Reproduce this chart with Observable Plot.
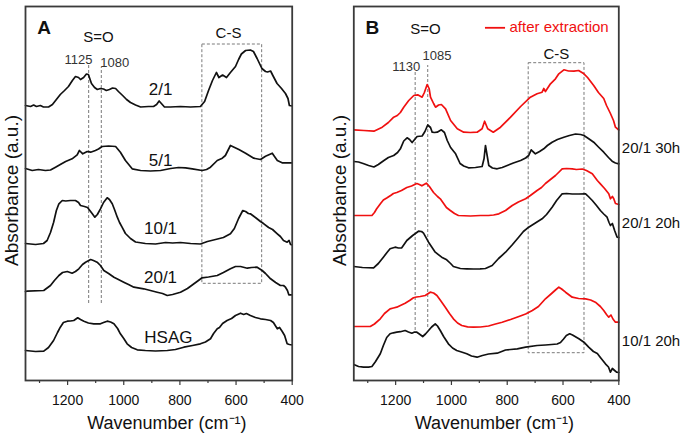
<!DOCTYPE html>
<html><head><meta charset="utf-8">
<script src="https://cdn.jsdelivr.net/npm/d3@7"></script>
<script src="https://cdn.jsdelivr.net/npm/@observablehq/plot@0.6"></script>
<style>
html,body{margin:0;padding:0;background:#fff;}
#wrap{position:relative;width:685px;height:435px;overflow:hidden;}
#a{position:absolute;left:0;top:0;}
#b{position:absolute;left:328px;top:0;}
</style></head><body><div id="wrap"><div id="a"></div><div id="b"></div></div>
<script>
const FONT = '"Liberation Sans", Arial, Helvetica, sans-serif';
const BLACK = "#111111", RED = "#f01010";

// ---- axes ----
const wnDomain = [1350, 400];
const majorTicks = [1200, 1000, 800, 600, 400];
const minorTicks = [1300, 1100, 900, 700, 500];
const xTitle = "Wavenumber (cm⁻¹)";
const yTitle = "Absorbance (a.u.)";

// ---- Panel A spectra: [wavenumber, absorbance (a.u., stacked)] ----
const A_2_1 = [[1350,275],[1332,274],[1321,275.5],[1311,274],[1297,275],[1286,273.5],[1268,273.5],[1254,276],[1240,281],[1226,286],[1211,290],[1197,294],[1183,300],[1172,304],[1161,303],[1154,301],[1143,303],[1133,306.5],[1126,306],[1115,297],[1104,293],[1094,291],[1083,292],[1072,291.5],[1062,290],[1051,291],[1040,292.5],[1029,292],[1019,289],[1004,285],[990,281],[976,278],[958,275.5],[940,273.5],[912,274],[894,274],[883,276],[874,279.5],[866,277],[855,273.5],[834,273.5],[798,274],[762,273.5],[727,274],[712,279],[698,290],[684,300],[670,308],[661,303],[648,305.5],[634,303],[620,308],[602,314],[591,321],[581,326.5],[566,330],[549,330.5],[538,329],[525,322],[508,312],[495,309],[488,308.5],[477,309.5],[468,304.5],[454,297],[438,292],[424,287],[415,282],[410,275],[400,274.5]];
const A_5_1 = [[1350,212],[1326,210],[1304,211],[1279,210],[1261,210.5],[1243,213.3],[1226,216],[1207,219],[1184,221.7],[1166,225.7],[1158,230],[1146,226.7],[1130,229],[1118,228.3],[1101,230],[1090,231.5],[1077,234],[1054,234.5],[1029,234],[1012,228.3],[994,220],[970,211.7],[940,210],[905,209.5],[869,210],[833,212],[805,213],[780,212.7],[756,211.7],[721,210],[705,211],[691,213.3],[667,220],[649,222.3],[638,225],[620,235],[605,233],[590,231],[566,227.3],[537,222.3],[513,221],[495,224.3],[471,227.3],[463,224],[453,220],[436,217.7],[400,217.7]];
const A_10_1 = [[1350,137],[1314,136],[1286,137],[1273,140],[1261,148],[1250,158],[1240,170],[1231,176.7],[1219,180],[1207,179.5],[1190,180],[1172,180],[1161,178],[1154,175],[1140,174],[1129,173],[1112,166.7],[1103,163.3],[1094,166],[1083,171.7],[1072,178],[1059,182.7],[1051,181],[1041,176.7],[1033,171],[1023,163.3],[1015,158],[1006,153.3],[994,147],[976,142],[958,138.5],[923,137],[887,136.5],[851,138],[826,137.5],[798,138],[762,137],[727,136.5],[702,139],[673,141],[645,143],[620,146.7],[606,152],[591,162],[576,170],[566,169],[556,167],[549,166.7],[531,163],[513,159],[501,156.7],[484,153],[470,151],[453,146.7],[442,144],[431,140],[418,138.3],[411,140],[406,136],[400,135.7]];
const A_20_1 = [[1350,89],[1344,89.3],[1285,90],[1261,95],[1247,100],[1231,105],[1218,108],[1201,109],[1184,107.3],[1172,109],[1160,111.7],[1147,116],[1136,118.3],[1118,121],[1108,120],[1095,118.3],[1083,115],[1071,110],[1054,107],[1035,103.3],[1019,101],[1000,98.3],[983,96],[964,93.3],[929,91.7],[905,90],[881,88.3],[862,87],[845,85],[826,86],[798,88.3],[773,92],[750,96.7],[734,100],[721,102.7],[698,103.5],[667,105],[645,108],[620,111.7],[602,114],[584,114],[560,112.3],[545,113],[525,113.3],[507,110],[495,107],[477,101.7],[459,98],[442,95],[431,95],[424,93.3],[417,90],[412,85.7],[400,85.7]];
const A_HSAG = [[1350,30],[1314,29],[1285,29.3],[1268,33],[1250,40],[1236,48],[1226,53.3],[1215,58],[1201,59.3],[1190,59.5],[1178,60],[1164,62.7],[1154,61],[1142,59.3],[1126,57.5],[1107,56.7],[1083,56.7],[1072,58],[1059,59.3],[1047,58.5],[1035,56.7],[1022,52],[1012,46.7],[1000,42],[988,36.7],[972,33],[952,30.7],[923,30],[887,29.5],[845,30],[816,31],[786,33.3],[755,35],[727,36.7],[709,38.5],[691,41.7],[680,47],[667,51.7],[659,53],[648,57],[632,60],[616,62],[602,65],[584,67.3],[573,66],[563,67],[549,65],[531,63],[513,61.7],[495,61],[477,60],[467,58],[453,51.7],[445,53],[436,49.3],[427,45],[418,36.7],[410,36],[400,35.7]];

// ---- Panel B spectra ----
const B_30h_after = [[1350,250.7],[1314,250],[1278,249.3],[1248,253.3],[1226,258],[1207,263.3],[1194,265],[1183,268],[1171,273.3],[1153,280],[1135,285],[1121,285.7],[1105,283.3],[1097,288],[1087,296],[1080,292],[1075,283.3],[1064,277],[1057,273.3],[1046,275.5],[1036,276],[1021,271.7],[1003,260],[979,251.7],[956,248.3],[932,248],[908,248.3],[890,251.7],[881,259.3],[870,251.7],[850,248.3],[824,253.3],[788,263.3],[752,274],[717,283.3],[693,286.7],[675,288.3],[669,292],[663,289],[645,296.7],[627,301.7],[615,306.7],[597,310.7],[580,309.5],[561,309.3],[544,310],[525,306.7],[512,303],[490,295],[473,288],[454,282],[444,275],[430,267],[419,260],[412,253.3],[400,250.5]];
const B_30h = [[1350,219],[1333,218.5],[1314,216.7],[1297,215],[1278,213.5],[1262,216],[1242,220],[1226,223],[1207,225],[1193,228],[1183,231.7],[1171,239.5],[1159,242.7],[1150,241],[1141,238],[1132,241],[1123,244],[1105,244.5],[1095,249],[1085,255.5],[1075,253],[1069,248.3],[1061,248],[1051,248.3],[1036,250.7],[1025,248],[1015,240],[1003,233],[985,226.7],[969,217],[956,214.5],[939,212.7],[914,213],[890,214],[883,222],[878,235],[872,225],[866,215],[853,212.5],[836,211.7],[818,213],[800,215],[778,217.5],[752,220],[734,222.5],[723,225],[714,230.7],[708,229],[699,226.7],[684,229],[669,231.7],[656,235],[639,238.3],[620,241],[597,243.3],[577,245],[555,246.5],[537,246],[525,245],[509,242],[490,238.3],[473,233.5],[454,228.3],[437,223],[424,219.3],[412,217.5],[400,216.7]];
const B_20h_after = [[1350,165],[1319,165],[1285,165],[1276,168],[1268,171.7],[1254,177],[1244,180.5],[1232,182.5],[1218,185],[1208,187],[1196,188],[1179,190],[1160,193],[1143,194.5],[1124,197],[1115,196],[1106,194.7],[1090,197.3],[1079,194],[1064,188],[1050,184],[1040,181.7],[1028,177],[1018,173],[1004,170],[989,167],[975,165],[932,164.5],[896,165],[867,165],[849,165.5],[830,166.7],[806,170],[782,175],[760,178.5],[734,181.7],[717,185],[693,190],[677,193],[663,197],[645,201],[627,205],[616,208],[603,211.7],[587,212],[567,211.7],[552,211],[531,211.5],[516,210],[495,206.7],[477,200],[466,196.7],[451,192],[436,186.7],[430,181.7],[423,184],[418,181.7],[412,177],[400,176]];
const B_20h = [[1350,114],[1319,113],[1279,112.7],[1262,117],[1244,123.3],[1231,128],[1220,131.7],[1202,133.3],[1190,132.5],[1178,132.7],[1160,140],[1139,145],[1129,147],[1118,149.3],[1107,149],[1100,147.3],[1082,138.3],[1058,128.3],[1035,123.3],[1017,120.7],[1003,117],[993,114],[968,112],[945,111.7],[921,111.5],[897,111.7],[878,112],[854,115],[831,122],[806,128.3],[781,136],[759,143.3],[742,149],[723,153.3],[699,157.5],[675,161.7],[659,166],[639,173.3],[623,180],[603,186.7],[587,187],[567,186.5],[544,186.5],[519,186.7],[509,184],[495,180],[480,175],[466,170],[454,166.5],[442,163.3],[435,158],[430,155],[423,157],[415,150],[406,143.3],[400,143]];
const B_10_20h_after = [[1350,54],[1319,54],[1291,54],[1276,56.5],[1255,61.7],[1240,67],[1220,71.7],[1208,72.5],[1196,73.3],[1183,75],[1166,77.3],[1150,80],[1136,82.7],[1125,83.5],[1112,84],[1094,85],[1076,88.3],[1064,87.5],[1052,85],[1039,80],[1022,73.3],[1007,67],[993,61.7],[978,57.5],[963,55],[942,53.7],[921,53.3],[896,53.5],[867,54.5],[842,56.5],[818,58.3],[788,61],[758,64],[734,66.5],[710,70],[688,74],[663,81.7],[641,87],[627,90.5],[615,93.3],[605,91.5],[591,88.3],[567,83.3],[544,82],[519,81.7],[501,80.5],[484,78.3],[466,74],[454,70],[444,66],[436,63.3],[428,65.5],[421,61.5],[412,58.3],[400,58.3]];
const B_10_20h = [[1350,16],[1333,14],[1315,13.3],[1297,13.3],[1285,14],[1272,19],[1255,26.7],[1244,35],[1232,43],[1220,46.7],[1208,47.7],[1196,48.3],[1183,48.8],[1166,50],[1154,48.5],[1142,47.3],[1132,48.5],[1124,48.3],[1115,46.5],[1103,44],[1093,46.5],[1082,50],[1071,53.5],[1058,56.7],[1050,54.5],[1040,50],[1028,44],[1011,36.7],[996,32.5],[981,30],[964,28.5],[945,26.7],[928,24.5],[908,23.3],[889,25],[867,26.5],[836,27.3],[806,30.5],[788,31],[764,31.7],[734,33.3],[693,35],[663,35.5],[641,36],[621,36.5],[609,38],[598,41.5],[588,45],[576,46.7],[566,45.5],[543,41.7],[525,38.3],[508,33.3],[491,29],[477,27],[466,23],[448,16.7],[437,13.5],[430,8.3],[423,12],[415,10],[408,8.3],[400,8]];

// ---- labels & guides ----
const seriesLabelsA = ["2/1", "5/1", "10/1", "20/1", "HSAG"];
const seriesLabelsB = ["20/1 30h", "20/1 20h", "10/1 20h"];
const legendLabel = "after extraction";
const guidesA = [{wn: 1125, y1: 77, y2: 315}, {wn: 1080, y1: 77, y2: 313}];
const guidesB = [{wn: 1130, y1: 50, y2: 308}, {wn: 1085, y1: 53, y2: 315}];
const boxA = [{x1: 720, x2: 507, y1: 96.7, y2: 336}];
const boxB = [{x1: 723, x2: 523, y1: 27.3, y2: 317.3}];

const annotA = [
  {t: "A", wn: 1308, v: 352.8, size: 19, weight: "bold", anchor: "start"},
  {t: "S=O", wn: 1090, v: 343.8, size: 15},
  {t: "C-S", wn: 627, v: 347.8, size: 15},
  {t: "1125", wn: 1161, v: 320.3, size: 13, fill: "#333"},
  {t: "1080", wn: 1032, v: 317.8, size: 13, fill: "#333"},
  {t: seriesLabelsA[0], wn: 869, v: 291, size: 17},
  {t: seriesLabelsA[1], wn: 869, v: 220, size: 17},
  {t: seriesLabelsA[2], wn: 869, v: 151.5, size: 17},
  {t: seriesLabelsA[3], wn: 869, v: 103.3, size: 17},
  {t: seriesLabelsA[4], wn: 841, v: 43.3, size: 17}
];
const annotB = [
  {t: "B", wn: 1308, v: 352.8, size: 19, weight: "bold", anchor: "start"},
  {t: "S=O", wn: 1093, v: 351.8, size: 15},
  {t: "C-S", wn: 624, v: 326.5, size: 15},
  {t: "1130", wn: 1162, v: 313.8, size: 13, fill: "#333"},
  {t: "1085", wn: 1052, v: 324.5, size: 13, fill: "#333"},
  {t: legendLabel, wn: 792, v: 353.1, size: 15, fill: RED, anchor: "start"},
  {t: seriesLabelsB[0], wn: 400, v: 232, size: 15, anchor: "start", dx: 3},
  {t: seriesLabelsB[1], wn: 400, v: 157.5, size: 15, anchor: "start", dx: 3},
  {t: seriesLabelsB[2], wn: 400, v: 39, size: 15, anchor: "start", dx: 3}
];
const legendB = [{x1: 878, x2: 806, v: 352.7}];

function textMarks(annots) {
  return annots.map(a => Plot.text([a], {
    x: "wn", y: "v", text: "t", fontSize: a.size, fontWeight: a.weight || "normal",
    fill: a.fill || BLACK, textAnchor: a.anchor || "middle", lineAnchor: "middle", dx: a.dx || 0
  }));
}

function panel(cfg) {
  const marks = [
    Plot.rect(cfg.box, {x1: "x1", x2: "x2", y1: "y1", y2: "y2", fill: "none", stroke: "#7a7a7a", strokeWidth: 1, strokeDasharray: "3,2"}),
    Plot.ruleX(cfg.guides, {x: "wn", y1: "y1", y2: "y2", stroke: "#7a7a7a", strokeWidth: 1, strokeDasharray: "3,2"}),
    ...cfg.series.map(s => Plot.line(s.data, {x: d => d[0], y: d => d[1], stroke: s.color, strokeWidth: 1.7, strokeLinejoin: "round"})),
    ...(cfg.legend ? [Plot.ruleY(cfg.legend, {y: "v", x1: "x1", x2: "x2", stroke: RED, strokeWidth: 1.8})] : []),
    ...textMarks(cfg.annots),
    Plot.frame({stroke: "#3a3a3a", strokeWidth: 1.8}),
    Plot.axisX({ticks: minorTicks, tickSize: 3, tickFormat: () => "", label: null, stroke: "#3a3a3a", strokeWidth: 1.2}),
    Plot.axisX({ticks: majorTicks, tickSize: 5, tickPadding: 10, tickFormat: d => String(d), fontSize: 14, label: null, stroke: "#3a3a3a", strokeWidth: 1.2}),
    Plot.text([xTitle], {text: d => d, frameAnchor: "bottom", textAnchor: "middle", lineAnchor: "middle", dy: 43, dx: 8, fontSize: 18, fill: BLACK}),
    Plot.text([yTitle], {text: d => d, frameAnchor: "left", textAnchor: "middle", lineAnchor: "middle", rotate: -90, dx: -14, dy: -3, fontSize: 19, fill: BLACK})
  ];
  return Plot.plot({
    width: cfg.width, height: 435,
    marginLeft: cfg.marginLeft, marginRight: cfg.marginRight, marginTop: 6, marginBottom: 55,
    x: {domain: wnDomain, axis: null},
    y: {domain: [0, 374], axis: null},
    style: {fontFamily: FONT, color: BLACK, background: "white", overflow: "visible"},
    marks
  });
}

document.getElementById("a").append(panel({
  width: 300, marginLeft: 25, marginRight: 8.3,
  series: [A_2_1, A_5_1, A_10_1, A_20_1, A_HSAG].map(d => ({data: d, color: BLACK})),
  guides: guidesA, box: boxA, annots: annotA
}));
document.getElementById("b").append(panel({
  width: 357, marginLeft: 25.3, marginRight: 66.7,
  series: [
    {data: B_30h_after, color: RED}, {data: B_30h, color: BLACK},
    {data: B_20h_after, color: RED}, {data: B_20h, color: BLACK},
    {data: B_10_20h_after, color: RED}, {data: B_10_20h, color: BLACK}
  ],
  guides: guidesB, box: boxB, annots: annotB, legend: legendB
}));
</script></body></html>
